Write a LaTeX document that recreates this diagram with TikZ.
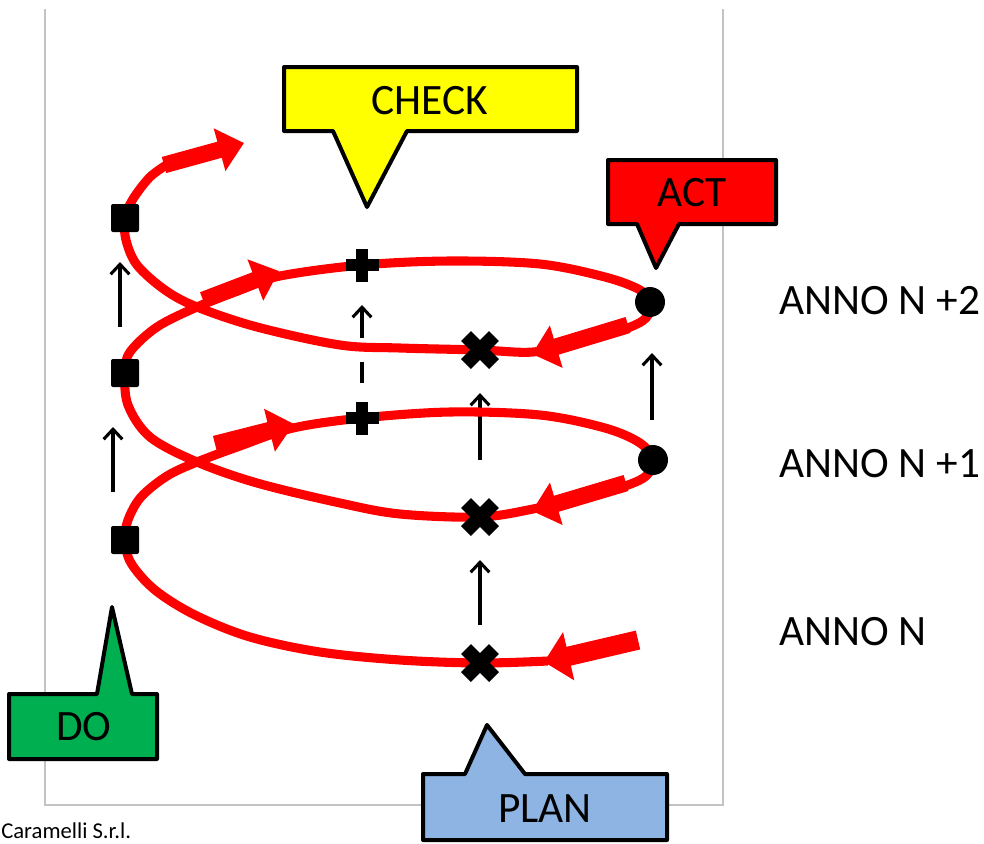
\documentclass[tikz,border=0pt]{standalone}
\usepackage{fontspec}
\setmainfont{Carlito}
\usetikzlibrary{arrows.meta,shapes.misc}
\definecolor{spiralred}{RGB}{255,0,0}
\definecolor{checkyellow}{RGB}{255,255,0}
\definecolor{actred}{RGB}{255,0,0}
\definecolor{dogreen}{RGB}{0,176,80}
\definecolor{planblue}{RGB}{141,180,226}
\definecolor{framegray}{RGB}{195,195,195}

\tikzset{
  spiralline/.style={draw=spiralred, line width=6.8pt, line join=round},
  blockarrow/.style={draw=spiralred, line width=12.5pt, -{Triangle[width=32pt,length=19pt]}},
  bigblockarrow/.style={draw=spiralred, line width=14.5pt, -{Triangle[width=36pt,length=19pt]}},
  squaremark/.style={fill=black, rounded corners=1.5pt, minimum size=21pt, inner sep=0pt, outer sep=0pt},
  dotmark/.style={circle, fill=black, minimum size=22.5pt, inner sep=0pt},
  xmark/.style={cross out, draw=black, line width=10.5pt, minimum size=21pt, inner sep=0pt, outer sep=0pt},
  plusmark/.style={cross out, draw=black, line width=9pt, minimum size=17.5pt, inner sep=0pt, outer sep=0pt, rotate=45},
  levelarrow/.style={draw=black, line width=2.3pt, -{Straight Barb[length=7.5pt,width=14pt]}},
  calloutbox/.style={draw=black, line width=3pt, line join=round},
  bigtext/.style={inner sep=0pt, font=\fontsize{32.5}{38}\selectfont},
  framestyle/.style={draw=framegray, line width=0.9pt}
}

\begin{document}
\begin{tikzpicture}[x=0.75pt, y=-0.75pt]
\useasboundingbox (0,0) rectangle (984,843);

% page frame
\draw[framestyle] (45,9) -- (45,805) -- (723,805) -- (723,9);

% vertical step arrows between the yearly loops
\coordinate (la1s) at (113,492); \coordinate (la1e) at (113,427);
\coordinate (la2s) at (120,327); \coordinate (la2e) at (120,262);
\coordinate (lc0s) at (362,383); \coordinate (lc0e) at (362,362);
\coordinate (lc1s) at (362,338); \coordinate (lc1e) at (362,305);
\coordinate (lp1s) at (480,625); \coordinate (lp1e) at (480,560);
\coordinate (lp2s) at (480,460); \coordinate (lp2e) at (480,393);
\coordinate (lt1s) at (652,420); \coordinate (lt1e) at (652,353);
\draw[levelarrow] (la1s) -- (la1e);
\draw[levelarrow] (la2s) -- (la2e);
\draw[draw=black, line width=2.3pt] (lc0s) -- (lc0e);
\draw[levelarrow] (lc1s) -- (lc1e);
\draw[levelarrow] (lp1s) -- (lp1e);
\draw[levelarrow] (lp2s) -- (lp2e);
\draw[levelarrow] (lt1s) -- (lt1e);

% the rising PDCA spiral
\draw[spiralline] plot[smooth, tension=0.55] coordinates {
  (548,661) (480,663) (400,660) (320,652) (250,637) (195,615) (155,590) (131,563) (125,540)
  (128,520) (141,497) (167,476) (197,462) (240,446) (293,428) (362,418) (450,412) (540,415)
  (605,428) (640,443) (653,460)
  (646,476) (622,487) (575,499) (533,509) (480,517) (400,514) (340,503) (257,483) (197,462)
  (150,437) (128,405) (125,373)
  (130,352) (157,327) (197,307) (240,290) (280,276) (362,265) (450,261) (540,264) (605,277)
  (640,290) (650,303)
  (646,318) (625,329) (580,342) (533,352) (480,350) (400,348) (340,345) (257,327) (197,307)
  (165,290) (137,265) (126,240) (125,218)
  (133,199) (150,177) (168,164)};

% direction arrows along the spiral
\coordinate (ba1s) at (638,640); \coordinate (ba1e) at (544,662);
\coordinate (ba2s) at (626,483); \coordinate (ba2e) at (532,511);
\coordinate (ba3s) at (628,325); \coordinate (ba3e) at (532,354);
\coordinate (ba4s) at (215,444); \coordinate (ba4e) at (294,424);
\coordinate (ba5s) at (203,300); \coordinate (ba5e) at (279,271);
\coordinate (ba6s) at (164,165); \coordinate (ba6e) at (244,143);
\draw[bigblockarrow] (ba1s) -- (ba1e);
\draw[blockarrow] (ba2s) -- (ba2e);
\draw[blockarrow] (ba3s) -- (ba3e);
\draw[blockarrow] (ba4s) -- (ba4e);
\draw[blockarrow] (ba5s) -- (ba5e);
\draw[blockarrow] (ba6s) -- (ba6e);

% phase markers
\node[xmark] (plan0) at (480,663) {};
\node[xmark] (plan1) at (480,517) {};
\node[xmark] (plan2) at (480,350) {};
\node[squaremark] (do0) at (125,540) {};
\node[squaremark] (do1) at (125,373) {};
\node[squaremark] (do2) at (125,218) {};
\node[plusmark] (check1) at (362,418) {};
\node[plusmark] (check2) at (362,265) {};
\node[dotmark] (act1) at (653,460) {};
\node[dotmark] (act2) at (650,302) {};

% callouts
\draw[calloutbox, fill=checkyellow] (284,67) -- (577,67) -- (577,131) -- (407,131) -- (367,207) -- (333,131) -- (284,131) -- cycle;
\node[bigtext] (check) at (430,101) {CHECK};
\draw[calloutbox, fill=actred] (608,160) -- (776,160) -- (776,224) -- (679,224) -- (656,268) -- (637,224) -- (608,224) -- cycle;
\node[bigtext] (act) at (692,193) {ACT};
\draw[calloutbox, fill=dogreen] (9,694) -- (97,694) -- (112,607) -- (132,694) -- (157,694) -- (157,759) -- (9,759) -- cycle;
\node[bigtext] (do) at (84,727) {DO};
\draw[calloutbox, fill=planblue] (423,774) -- (465,774) -- (487,725) -- (525,774) -- (667,774) -- (667,840) -- (423,840) -- cycle;
\node[bigtext] (plan) at (545,809) {PLAN};

% year labels
\node[bigtext, anchor=west] (year2) at (779,301) {ANNO N +2};
\node[bigtext, anchor=west] (year1) at (779,464) {ANNO N +1};
\node[bigtext, anchor=west] (year0) at (779,632) {ANNO N};

% credit line
\node[inner sep=0pt, anchor=base west, font=\fontsize{17}{20}\selectfont] (credit) at (1,838) {Caramelli S.r.l.};
\end{tikzpicture}
\end{document}
